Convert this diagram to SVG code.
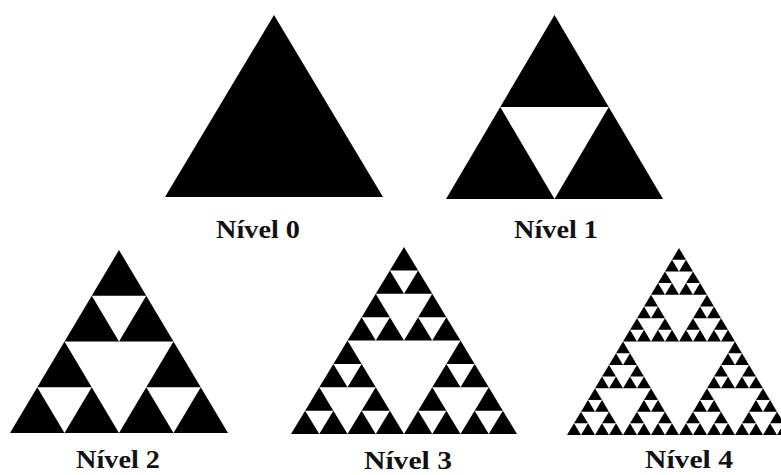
<svg xmlns="http://www.w3.org/2000/svg" xmlns:xlink="http://www.w3.org/1999/xlink" width="781" height="475" viewBox="0 0 781 475">
<style>
.lbl{font-family:"Liberation Serif","Times New Roman",serif;font-weight:bold;font-size:26px;fill:#111;text-anchor:middle}
.tri{fill:#000}
</style>
<defs>
<polygon id="s0" class="tri" points="0.5,0 0,1 1,1"/>
<g id="s1"><use xlink:href="#s0" transform="translate(0.25,0) scale(0.5)"/><use xlink:href="#s0" transform="translate(0,0.5) scale(0.5)"/><use xlink:href="#s0" transform="translate(0.5,0.5) scale(0.5)"/></g>
<g id="s2"><use xlink:href="#s1" transform="translate(0.25,0) scale(0.5)"/><use xlink:href="#s1" transform="translate(0,0.5) scale(0.5)"/><use xlink:href="#s1" transform="translate(0.5,0.5) scale(0.5)"/></g>
<g id="s3"><use xlink:href="#s2" transform="translate(0.25,0) scale(0.5)"/><use xlink:href="#s2" transform="translate(0,0.5) scale(0.5)"/><use xlink:href="#s2" transform="translate(0.5,0.5) scale(0.5)"/></g>
<g id="s4"><use xlink:href="#s3" transform="translate(0.25,0) scale(0.5)"/><use xlink:href="#s3" transform="translate(0,0.5) scale(0.5)"/><use xlink:href="#s3" transform="translate(0.5,0.5) scale(0.5)"/></g>
</defs>
<rect width="781" height="475" fill="#fff"/>
<g id="connectors"/>
<g id="nivel0">
<use xlink:href="#s0" transform="translate(165,15) scale(218,182)"/>
<text class="lbl" x="258" y="238" textLength="84" lengthAdjust="spacingAndGlyphs">Nível 0</text>
</g>
<g id="nivel1">
<use xlink:href="#s1" transform="translate(446,15) scale(217,184)"/>
<text class="lbl" x="556" y="238" textLength="84" lengthAdjust="spacingAndGlyphs">Nível 1</text>
</g>
<g id="nivel2">
<use xlink:href="#s2" transform="translate(10,250) scale(218,183)"/>
<text class="lbl" x="118" y="468" textLength="84" lengthAdjust="spacingAndGlyphs">Nível 2</text>
</g>
<g id="nivel3">
<use xlink:href="#s3" transform="translate(291,247) scale(226,187)"/>
<text class="lbl" x="408" y="469" textLength="88" lengthAdjust="spacingAndGlyphs">Nível 3</text>
</g>
<g id="nivel4">
<use xlink:href="#s4" transform="translate(567,248) scale(224,187)"/>
<text class="lbl" x="689" y="468" textLength="88" lengthAdjust="spacingAndGlyphs">Nível 4</text>
</g>
</svg>
